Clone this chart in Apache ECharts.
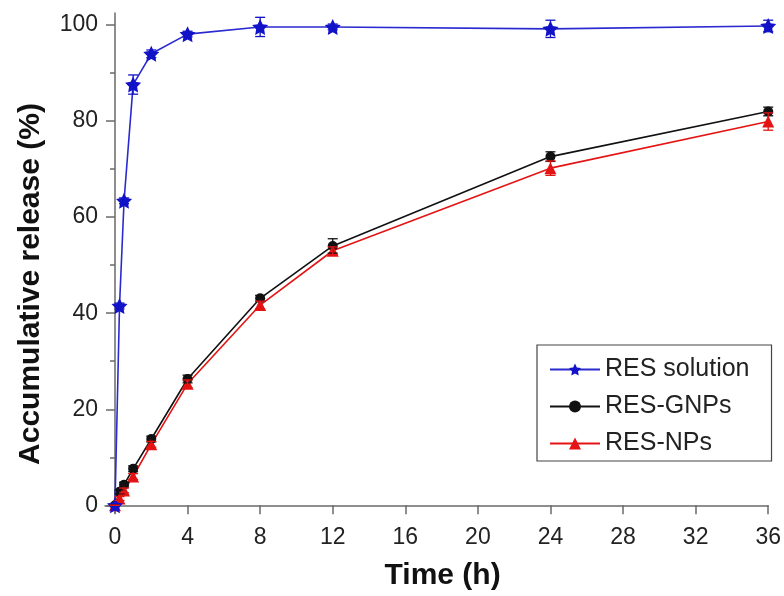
<!DOCTYPE html>
<html>
<head>
<meta charset="utf-8">
<script src="https://cdn.jsdelivr.net/npm/echarts@6/dist/echarts.min.js"></script>
<style>
  html, body { margin: 0; padding: 0; background: #fff; }
  #chart { width: 784px; height: 596px; }
</style>
</head>
<body>
<div id="chart"></div>
<script>
// Sampling times (h)
const times = [0, 0.25, 0.5, 1, 2, 4, 8, 12, 24, 36];

// Cumulative release (%) and standard deviations
const solution    = [0, 41.5, 63.4, 87.6, 94.0, 98.1, 99.6, 99.6, 99.2, 99.8];
const solutionErr = [0, 0.6, 0.6, 2.0, 0.8, 0.6, 2.0, 0.6, 1.8, 1.2];
const gnps        = [0, 2.8, 4.3, 7.6, 13.8, 26.3, 43.1, 54.0, 72.6, 82.0];
const gnpsErr     = [0, 0.4, 0.5, 0.6, 0.6, 0.8, 0.6, 1.5, 1.0, 0.9];
const nps         = [0, 1.4, 3.1, 6.0, 12.7, 25.3, 41.7, 53.0, 70.2, 79.9];
const npsErr      = [0, 0.4, 0.5, 0.6, 0.6, 0.8, 0.8, 0.8, 1.5, 1.8];

const seriesNames = ['RES solution', 'RES-GNPs', 'RES-NPs'];

// Axis tick positions
const xTickValues = [0, 4, 8, 12, 16, 20, 24, 28, 32, 36];
const yTickValues = [0, 20, 40, 60, 80, 100];
const yMinorTickValues = [10, 30, 50, 70, 90];

const BLUE = '#1212c8';
const BLACK = '#111111';
const RED = '#e41414';
const STAR = 'path://M0,-10 L2.94,-4.05 9.51,-3.09 4.76,1.55 5.88,8.09 0,5 -5.88,8.09 -4.76,1.55 -9.51,-3.09 -2.94,-4.05Z';

function pairs(vals) {
  return times.map((t, i) => [t, vals[i]]);
}
function errRows(vals, errs) {
  return times.map((t, i) => [t, vals[i] - errs[i], vals[i] + errs[i]]);
}

function errorBars(color) {
  return function (params, api) {
    const lo = api.coord([api.value(0), api.value(1)]);
    const hi = api.coord([api.value(0), api.value(2)]);
    const half = 5;
    const style = { stroke: color, lineWidth: 1.3 };
    return {
      type: 'group',
      children: [
        { type: 'line', shape: { x1: lo[0], y1: lo[1], x2: hi[0], y2: hi[1] }, style: style },
        { type: 'line', shape: { x1: lo[0] - half, y1: lo[1], x2: lo[0] + half, y2: lo[1] }, style: style },
        { type: 'line', shape: { x1: hi[0] - half, y1: hi[1], x2: hi[0] + half, y2: hi[1] }, style: style }
      ]
    };
  };
}

const chart = echarts.init(document.getElementById('chart'), null, { renderer: 'canvas' });

const FONT = 'Liberation Sans, Arial, sans-serif';
const tickLabelStyle = { fontFamily: FONT, fontSize: 23, color: '#222' };
const axisLineStyle = { color: '#6a6a6a', width: 1.5 };

chart.setOption({
  animation: false,
  backgroundColor: '#fff',
  grid: { left: 105, right: 15, top: 13, bottom: 76, containLabel: false },
  legend: {
    orient: 'vertical',
    left: 537,
    top: 345,
    data: seriesNames,
    itemWidth: 50,
    itemHeight: 15,
    itemGap: 12,
    padding: [12, 22, 5, 12],
    borderColor: '#444',
    borderWidth: 1.2,
    textStyle: { fontFamily: FONT, fontSize: 25, color: '#222' }
  },
  xAxis: {
    type: 'value',
    min: -0.55,
    max: 36,
    name: 'Time (h)',
    nameLocation: 'middle',
    nameGap: 48,
    nameTextStyle: { fontFamily: FONT, fontSize: 30, fontWeight: 'bold', color: '#111', padding: [0, 0, 0, 12] },
    axisLine: { lineStyle: axisLineStyle },
    axisTick: { show: true, inside: false, length: 9, customValues: xTickValues, lineStyle: axisLineStyle },
    axisLabel: Object.assign({ customValues: xTickValues, margin: 13 }, tickLabelStyle),
    splitLine: { show: false }
  },
  yAxis: [
    {
      type: 'value',
      min: -1.6,
      max: 102.5,
      name: 'Accumulative release (%)',
      nameLocation: 'middle',
      nameGap: 59,
      nameTextStyle: { fontFamily: FONT, fontSize: 30, fontWeight: 'bold', color: '#111', padding: [0, 42, 0, 0] },
      axisLine: { show: true, lineStyle: axisLineStyle },
      axisTick: { show: true, inside: false, length: 9, customValues: yTickValues, lineStyle: axisLineStyle },
      axisLabel: Object.assign({ customValues: yTickValues, margin: 7 }, tickLabelStyle),
      splitLine: { show: false }
    },
    {
      // minor ticks, placed on the x = 0 line
      type: 'value',
      min: -1.6,
      max: 102.5,
      position: 'left',
      offset: -10,
      axisLine: { show: false },
      axisTick: { show: true, inside: false, length: 5, customValues: yMinorTickValues, lineStyle: axisLineStyle },
      axisLabel: { show: false },
      splitLine: { show: false }
    }
  ],
  series: [
    {
      name: seriesNames[0],
      type: 'line',
      data: pairs(solution),
      symbol: STAR,
      symbolSize: 16,
      itemStyle: { color: BLUE },
      lineStyle: { color: '#2a2ad0', width: 1.6 },
      z: 5
    },
    {
      name: seriesNames[1],
      type: 'line',
      data: pairs(gnps),
      symbol: 'circle',
      symbolSize: 10,
      itemStyle: { color: BLACK },
      lineStyle: { color: BLACK, width: 1.6 },
      z: 4
    },
    {
      name: seriesNames[2],
      type: 'line',
      data: pairs(nps),
      symbol: 'triangle',
      symbolSize: 12,
      itemStyle: { color: RED },
      lineStyle: { color: RED, width: 1.6 },
      z: 4
    },
    {
      type: 'custom',
      renderItem: errorBars(BLUE),
      data: errRows(solution, solutionErr),
      encode: { x: 0, y: [1, 2] },
      z: 6
    },
    {
      type: 'custom',
      renderItem: errorBars(BLACK),
      data: errRows(gnps, gnpsErr),
      encode: { x: 0, y: [1, 2] },
      z: 6
    },
    {
      type: 'custom',
      renderItem: errorBars(RED),
      data: errRows(nps, npsErr),
      encode: { x: 0, y: [1, 2] },
      z: 6
    }
  ]
});
</script>
</body>
</html>
